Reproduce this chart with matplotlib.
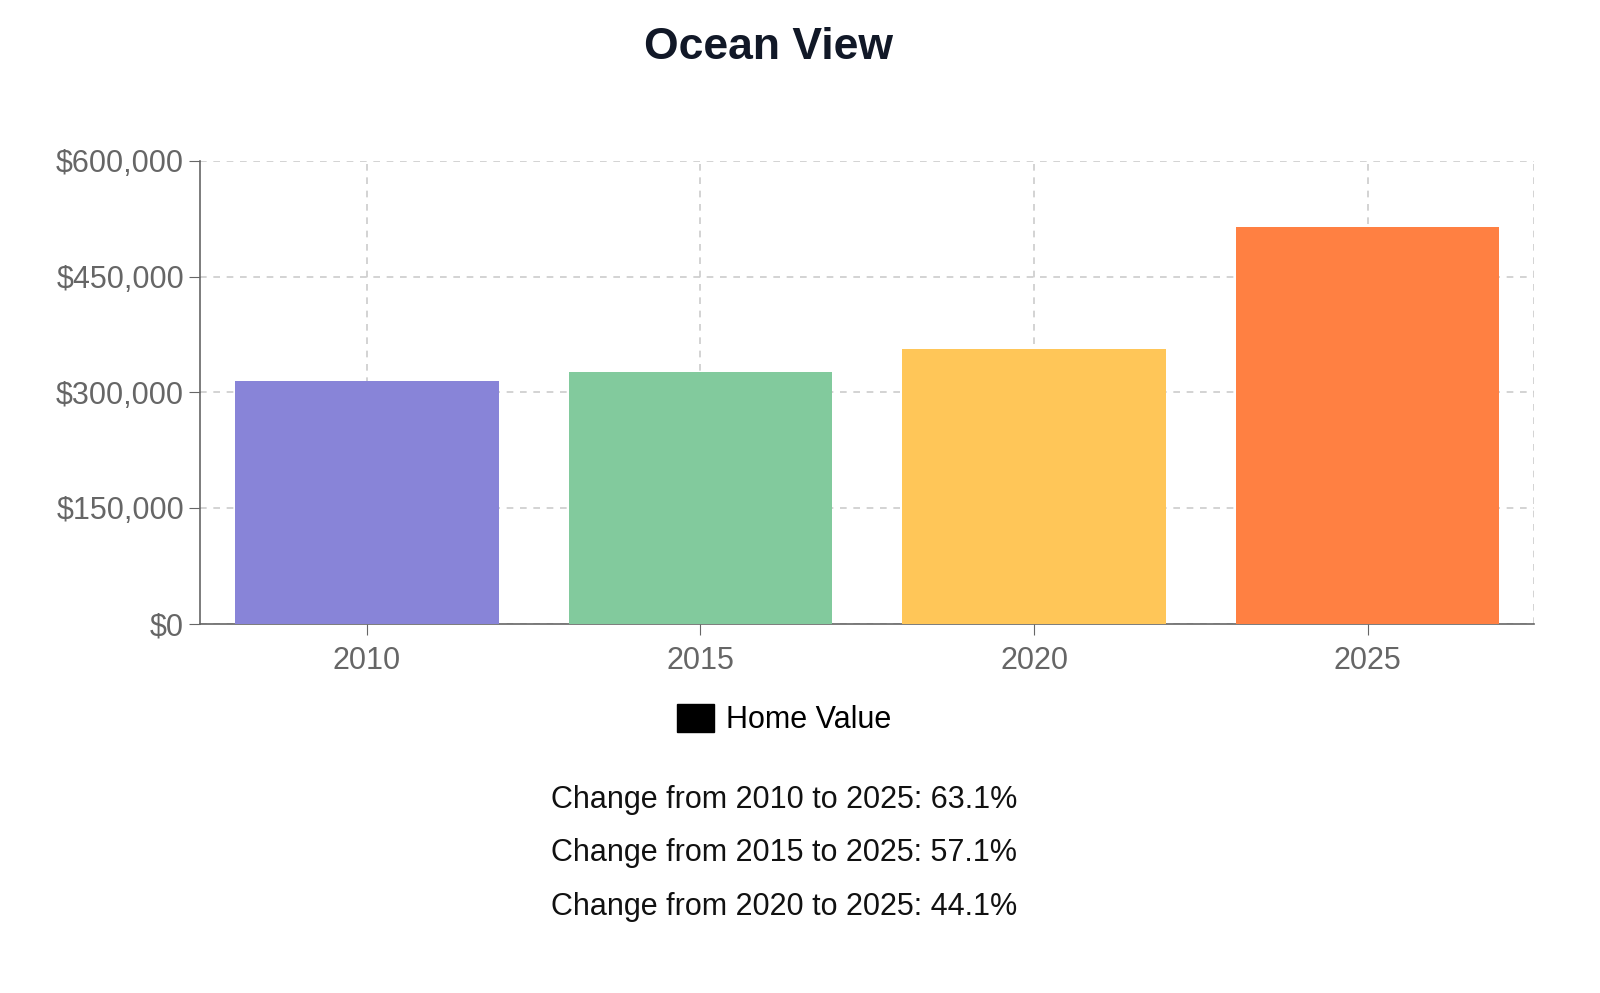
import matplotlib

matplotlib.use("Agg")
import matplotlib.pyplot as plt
from matplotlib.patches import Patch

plt.rcParams["font.family"] = "Liberation Sans"

years = ["2010", "2015", "2020", "2025"]
home_values = [315000, 326600, 356500, 513800]
bar_colors = ["#8884d8", "#82ca9d", "#ffc658", "#ff8042"]
y_ticks = [0, 150000, 300000, 450000, 600000]
changes = [("2010", "63.1%"), ("2015", "57.1%"), ("2020", "44.1%")]

fig = plt.figure(figsize=(16, 9.93), dpi=100)
ax = fig.add_axes([0.125, 0.372, 0.834, 0.466])

x = list(range(len(years)))
ax.bar(x, home_values, width=0.79, color=bar_colors, zorder=3)
ax.set_xlim(-0.5, len(years) - 0.5)
ax.set_ylim(0, 600000)
ax.set_xticks(x)
ax.set_xticklabels(years)
ax.set_yticks(y_ticks)
ax.set_yticklabels([f"${v:,.0f}" for v in y_ticks])
ax.tick_params(axis="both", labelsize=22, colors="#666666", length=8, color="#666666")
ax.tick_params(axis="x", pad=8)
ax.grid(True, linestyle=(0, (4, 4)), color="#cccccc", linewidth=1.2, zorder=0)
ax.axvline(len(years) - 0.5, linestyle=(0, (4, 4)), color="#cccccc", linewidth=1.2, zorder=0)
for side in ("top", "right"):
    ax.spines[side].set_visible(False)
for side in ("left", "bottom"):
    ax.spines[side].set_color("#666666")
    ax.spines[side].set_linewidth(1.2)

fig.text(0.48, 0.952, "Ocean View", ha="center", va="center", fontsize=32, fontweight="bold", color="#111827")
fig.legend(handles=[Patch(color="black", label="Home Value")], loc="center", bbox_to_anchor=(0.49, 0.275),
           frameon=False, fontsize=22, handlelength=1.2, handleheight=1.0, handletextpad=0.4)
for i, (start, pct) in enumerate(changes):
    fig.text(0.49, 0.194 - i * 0.0535, f"Change from {start} to 2025: {pct}", ha="center", va="center",
             fontsize=22, color="#111111")

fig.savefig("out.png", dpi=100)
